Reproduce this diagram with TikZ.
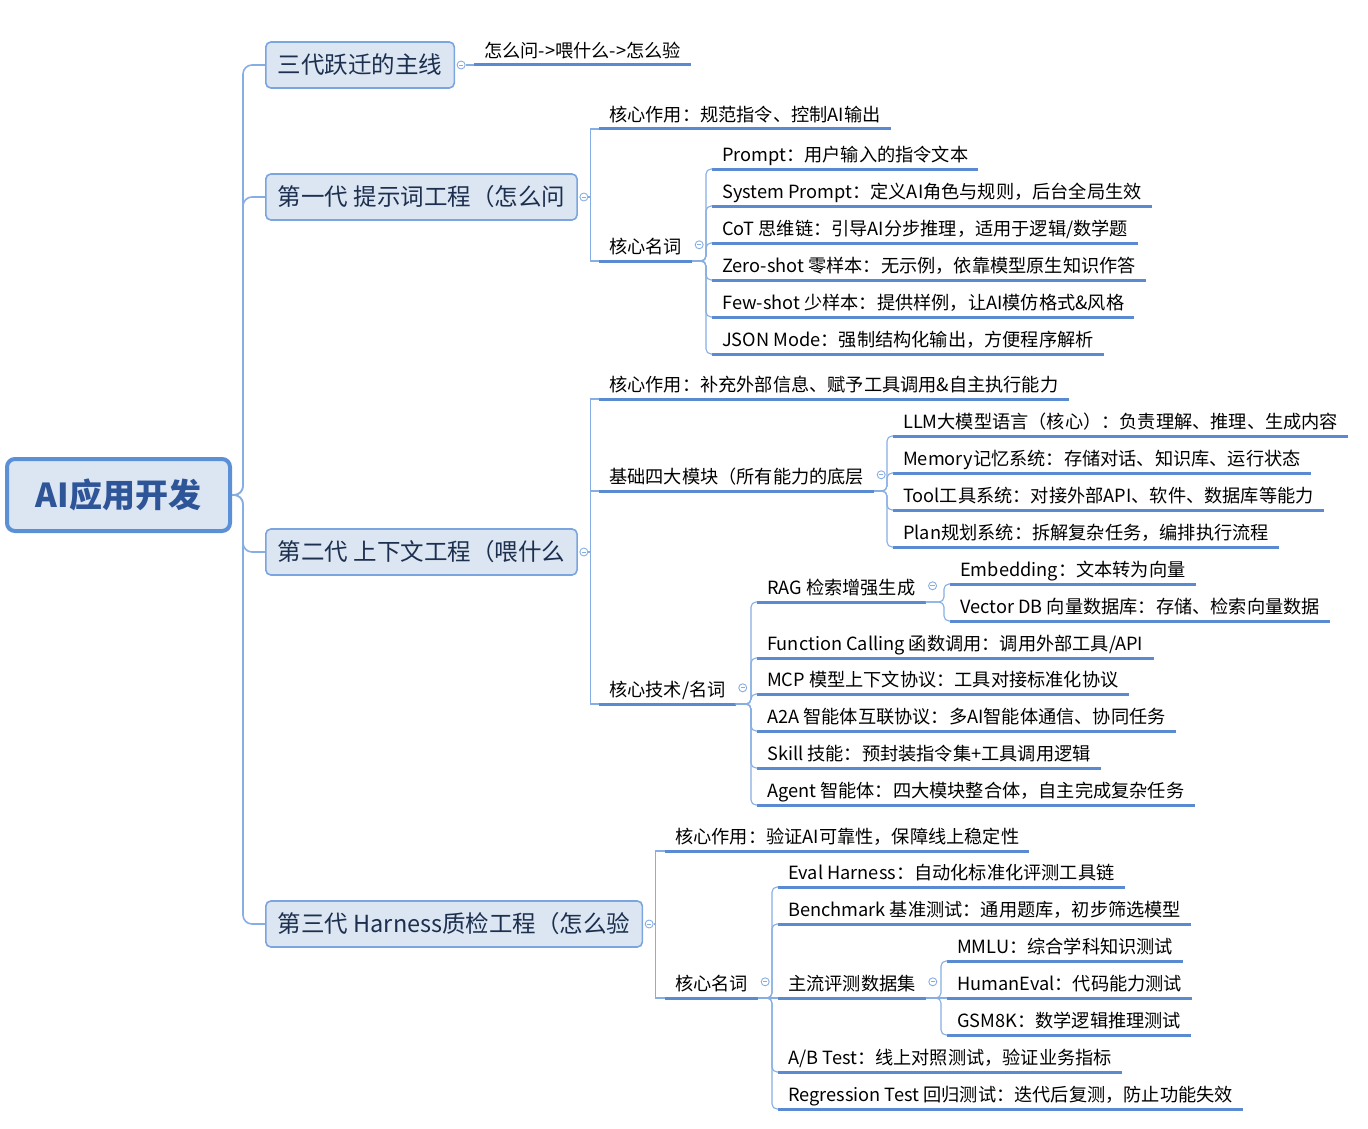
\documentclass[tikz,border=0pt]{standalone}
\usepackage{fontspec}
\setmainfont{Noto Sans CJK SC}
\usetikzlibrary{calc}
\definecolor{Soft}{HTML}{DCE6F2}
\definecolor{Edge}{HTML}{5B8FD6}
\definecolor{Frame}{HTML}{7BA5DE}
\definecolor{Line}{HTML}{5A8BD2}
\definecolor{Wire}{HTML}{86AEE3}
\definecolor{Ink}{HTML}{1C2F4E}
\definecolor{RootInk}{HTML}{2E5597}

\begin{document}
\begin{tikzpicture}[x=1pt,y=-1pt,
    root/.style={draw=Edge,line width=4pt,fill=Soft,rounded corners=8pt,minimum width=223pt,minimum height=72pt,text=RootInk,font=\fontsize{33}{38}\selectfont\bfseries},
    gen/.style={draw=Frame,line width=1.6pt,fill=Soft,rounded corners=5pt,anchor=west,minimum height=46pt,inner xsep=12pt,text=Ink,font=\fontsize{23.5}{28}\selectfont},
    uline/.style={draw=Line,line width=3pt},
    leaf/.style={anchor=south west,inner xsep=10pt,inner ysep=2pt,text height=15pt,text depth=5pt,font=\fontsize{18.2}{22}\selectfont,
      append after command={(\tikzlastnode.south west) edge[uline] (\tikzlastnode.south east)}},
    conn/.style={draw=Wire,line width=1.1pt},
    curvewire/.style={conn,rounded corners=5pt},
    trunk/.style={draw=Wire,line width=1.6pt,rounded corners=9pt},
    knob/.style={circle,draw=Wire,fill=white,line width=0.9pt,minimum size=8pt,inner sep=0pt,
      path picture={\draw[Wire,line width=0.8pt] ([xshift=-2.2pt]path picture bounding box.center)--([xshift=2.2pt]path picture bounding box.center);}}]
  \useasboundingbox (0,0) rectangle (1368,1129);

  % root and the three generations
  \node[root] (ai) at (118.5,495) {AI应用开发};
  \node[gen] (g0) at (265,65) {三代跃迁的主线};
  \node[gen] (g1) at (265,197) {第一代 提示词工程（怎么问};
  \node[gen] (g2) at (265,552) {第二代 上下文工程（喂什么};
  \node[gen] (g3) at (265,924) {第三代 Harness质检工程（怎么验};
  \foreach \g in {g0,g1,g2,g3}{
    \draw[trunk] (ai.east) -- ++(11,0) |- (\g.west);
    \node[knob] (t\g) at ([xshift=6pt]\g.east) {};}

  % main line
  \node[leaf] (z0) at (474,65) {怎么问->喂什么->怎么验};
  \draw[conn] (tg0.east) -- (z0.south west);

  % first generation
  \node[leaf] (a1) at (599,129) {核心作用：规范指令、控制AI输出};
  \node[leaf] (a2) at (599,261) {核心名词};
  \node[leaf] (a21) at (712,169) {Prompt：用户输入的指令文本};
  \node[leaf] (a22) at (712,206) {System Prompt：定义AI角色与规则，后台全局生效};
  \node[leaf] (a23) at (712,243) {CoT 思维链：引导AI分步推理，适用于逻辑/数学题};
  \node[leaf] (a24) at (712,280) {Zero-shot 零样本：无示例，依靠模型原生知识作答};
  \node[leaf] (a25) at (712,317) {Few-shot 少样本：提供样例，让AI模仿格式\&风格};
  \node[leaf] (a26) at (712,354) {JSON Mode：强制结构化输出，方便程序解析};

  % second generation
  \node[leaf] (b1) at (599,399) {核心作用：补充外部信息、赋予工具调用\&自主执行能力};
  \node[leaf] (b2) at (599,491) {基础四大模块（所有能力的底层};
  \node[leaf] (b21) at (893,436) {LLM大模型语言（核心）：负责理解、推理、生成内容};
  \node[leaf] (b22) at (893,473) {Memory记忆系统：存储对话、知识库、运行状态};
  \node[leaf] (b23) at (893,510) {Tool工具系统：对接外部API、软件、数据库等能力};
  \node[leaf] (b24) at (893,547) {Plan规划系统：拆解复杂任务，编排执行流程};
  \node[leaf] (b3) at (599,704) {核心技术/名词};
  \node[leaf] (b31) at (757,602) {RAG 检索增强生成};
  \node[leaf] (b311) at (950,584) {Embedding：文本转为向量};
  \node[leaf] (b312) at (950,621) {Vector DB 向量数据库：存储、检索向量数据};
  \node[leaf] (b32) at (757,658) {Function Calling 函数调用：调用外部工具/API};
  \node[leaf] (b33) at (757,694) {MCP 模型上下文协议：工具对接标准化协议};
  \node[leaf] (b34) at (757,731) {A2A 智能体互联协议：多AI智能体通信、协同任务};
  \node[leaf] (b35) at (757,768) {Skill 技能：预封装指令集+工具调用逻辑};
  \node[leaf] (b36) at (757,805) {Agent 智能体：四大模块整合体，自主完成复杂任务};

  % third generation
  \node[leaf] (c1) at (665,851) {核心作用：验证AI可靠性，保障线上稳定性};
  \node[leaf] (c2) at (665,998) {核心名词};
  \node[leaf] (c21) at (778,887) {Eval Harness：自动化标准化评测工具链};
  \node[leaf] (c22) at (778,924) {Benchmark 基准测试：通用题库，初步筛选模型};
  \node[leaf] (c23) at (778,998) {主流评测数据集};
  \node[leaf] (c231) at (947,961) {MMLU：综合学科知识测试};
  \node[leaf] (c232) at (947,998) {HumanEval：代码能力测试};
  \node[leaf] (c233) at (947,1035) {GSM8K：数学逻辑推理测试};
  \node[leaf] (c24) at (778,1072) {A/B Test：线上对照测试，验证业务指标};
  \node[leaf] (c25) at (778,1109) {Regression Test 回归测试：迭代后复测，防止功能失效};

  % knobs on the parents
  \foreach \p in {a2,b2,b3,b31,c2,c23}
    \node[knob] (m\p) at ([xshift=7pt,yshift=4pt]\p.east) {};

  % connectors
  \foreach \u/\v in {tg1/a1,tg1/a2,tg2/b1,tg2/b2,tg2/b3,tg3/c1,tg3/c2}
    \draw[conn] (\u.east) -- ++(2,0) |- (\v.south west);
  \foreach \u/\v in {a2/a21,a2/a22,a2/a23,a2/a24,a2/a25,a2/a26,b2/b21,b2/b22,b2/b23,b2/b24,
      b3/b31,b3/b32,b3/b33,b3/b34,b3/b35,b3/b36,b31/b311,b31/b312,
      c2/c21,c2/c22,c2/c24,c2/c25,c23/c231,c23/c233}
    \draw[curvewire] (\u.south east) -| ([xshift=-6pt]\v.south west) -- (\v.south west);
  \foreach \u/\v in {c2/c23,c23/c232}
    \draw[conn] (\u.south east) -- (\v.south west);
\end{tikzpicture}
\end{document}
